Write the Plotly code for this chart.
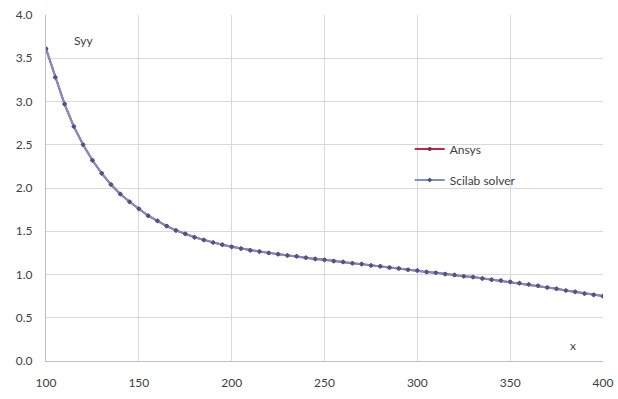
import plotly.graph_objects as go

# Stress profile Syy along x, compared for two solvers
x_vals = [100, 105, 110, 115, 120, 125, 130, 135, 140, 145,
          150, 155, 160, 165, 170, 175, 180, 185, 190, 195,
          200, 205, 210, 215, 220, 225, 230, 235, 240, 245,
          250, 255, 260, 265, 270, 275, 280, 285, 290, 295,
          300, 305, 310, 315, 320, 325, 330, 335, 340, 345,
          350, 355, 360, 365, 370, 375, 380, 385, 390, 395, 400]

ansys_syy = [3.61, 3.28, 2.97, 2.71, 2.50, 2.32, 2.17, 2.04, 1.93, 1.84,
             1.76, 1.68, 1.62, 1.56, 1.51, 1.47, 1.43, 1.40, 1.37, 1.345,
             1.32, 1.30, 1.28, 1.265, 1.25, 1.235, 1.22, 1.21, 1.195, 1.18,
             1.17, 1.155, 1.145, 1.13, 1.12, 1.105, 1.095, 1.08, 1.07, 1.055,
             1.045, 1.03, 1.02, 1.005, 0.995, 0.98, 0.97, 0.955, 0.94, 0.93,
             0.915, 0.90, 0.885, 0.87, 0.85, 0.835, 0.815, 0.80, 0.78, 0.765, 0.75]

scilab_syy = [3.61, 3.28, 2.97, 2.71, 2.50, 2.32, 2.17, 2.04, 1.93, 1.84,
              1.76, 1.68, 1.62, 1.56, 1.51, 1.47, 1.43, 1.40, 1.37, 1.345,
              1.32, 1.30, 1.28, 1.265, 1.25, 1.235, 1.22, 1.21, 1.195, 1.18,
              1.17, 1.155, 1.145, 1.13, 1.12, 1.105, 1.095, 1.08, 1.07, 1.055,
              1.045, 1.03, 1.02, 1.005, 0.995, 0.98, 0.97, 0.955, 0.94, 0.93,
              0.915, 0.90, 0.885, 0.87, 0.85, 0.835, 0.815, 0.80, 0.78, 0.765, 0.75]

FONT = "Lato, Open Sans, sans-serif"
GRID = "#d9d9d9"
TEXT = "#404040"

fig = go.Figure()
fig.add_trace(go.Scatter(
    x=x_vals, y=ansys_syy, name="Ansys", mode="lines+markers",
    line=dict(color="#b8284c", width=2),
    marker=dict(symbol="circle", size=4, color="#8a2448"),
    legend="legend",
))
fig.add_trace(go.Scatter(
    x=x_vals, y=scilab_syy, name="Scilab solver", mode="lines+markers",
    line=dict(color="#7d8fc4", width=2),
    marker=dict(symbol="diamond", size=4, color="#4c5688"),
    legend="legend2",
))

legend_style = dict(
    xanchor="left", yanchor="middle",
    font=dict(family=FONT, size=12, color=TEXT),
    bgcolor="rgba(0,0,0,0)", itemwidth=30,
)

fig.update_layout(
    width=618, height=399,
    margin=dict(l=46, r=15, t=15, b=38, autoexpand=False),
    paper_bgcolor="white", plot_bgcolor="white",
    font=dict(family=FONT, size=12, color=TEXT),
    showlegend=True,
    legend=dict(x=0.653, y=(399 - 38 - 149) / 346, **legend_style),
    legend2=dict(x=0.653, y=(399 - 38 - 180) / 346, **legend_style),
    xaxis=dict(
        range=[100, 400], dtick=50, tick0=100, automargin=False,
        showgrid=True, gridcolor=GRID, gridwidth=1,
        showline=True, linecolor="#bfbfbf", linewidth=1,
        zeroline=False, ticks="", ticklabelstandoff=11,
        tickfont=dict(family=FONT, size=12, color=TEXT),
    ),
    yaxis=dict(
        range=[0, 4], dtick=0.5, tick0=0, tickformat=".1f", automargin=False,
        showgrid=True, gridcolor=GRID, gridwidth=1,
        showline=True, linecolor="#bfbfbf", linewidth=1,
        zeroline=False, ticks="", ticklabelstandoff=10,
        tickfont=dict(family=FONT, size=12, color=TEXT),
    ),
    annotations=[
        dict(x=120, y=3.71, xref="x", yref="y", text="Syy", showarrow=False,
             font=dict(family=FONT, size=12, color=TEXT)),
        dict(x=384, y=0.18, xref="x", yref="y", text="x", showarrow=False,
             font=dict(family=FONT, size=12, color=TEXT)),
    ],
)

fig.write_html("out.html")
